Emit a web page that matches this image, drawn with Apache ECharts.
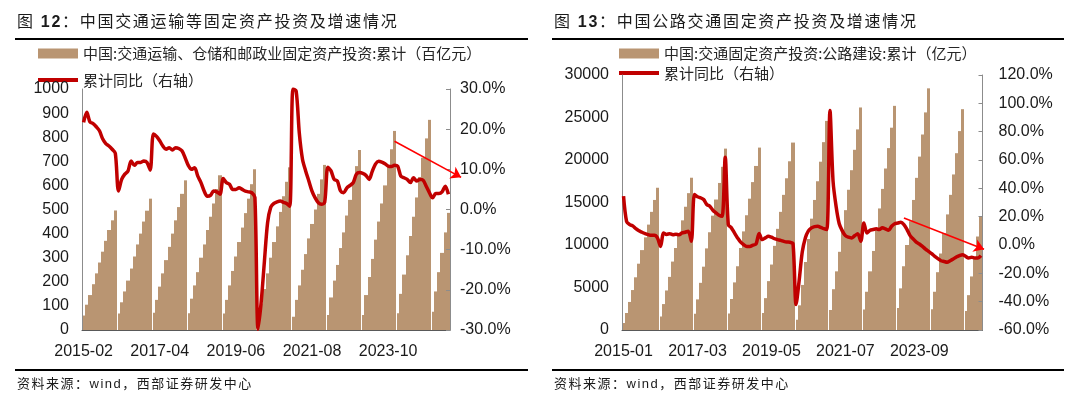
<!DOCTYPE html>
<html>
<head>
<meta charset="utf-8">
<script src="https://cdn.jsdelivr.net/npm/echarts@6/dist/echarts.min.js"></script>
<style>
html, body { margin: 0; padding: 0; background: #fff; }
#wrap { position: relative; width: 1080px; height: 398px; overflow: hidden; }
#main { position: absolute; left: 0; top: 0; width: 1080px; height: 398px; }
.cap { position: absolute; white-space: nowrap; color: #1a1a1a; font-family: 'Liberation Sans', 'Noto Sans CJK SC', sans-serif; }
.tt { top: 12px; font-size: 16px; line-height: 20px; letter-spacing: 1.7px; }
.src { top: 375px; font-size: 13px; line-height: 18px; letter-spacing: 1.5px; }
.rule { position: absolute; height: 2px; background: #000; }
</style>
</head>
<body>
<div id="wrap">
	<div id="main"></div>
	<div class="cap tt" style="left:17px">图 <b>12</b>：中国交通运输等固定资产投资及增速情况</div>
	<div class="cap tt" style="left:554px">图 <b>13</b>：中国公路交通固定资产投资及增速情况</div>
	<div class="rule" style="left:15px;top:37.5px;width:513px"></div>
	<div class="rule" style="left:552px;top:37.5px;width:512px"></div>
	<div class="rule" style="left:15px;top:369px;width:513px"></div>
	<div class="rule" style="left:552px;top:369px;width:512px"></div>
	<div class="cap src" style="left:17px">资料来源：wind，西部证券研发中心</div>
	<div class="cap src" style="left:554px">资料来源：wind，西部证券研发中心</div>
</div>
<script>
// months on the x axis: January is folded into February, except the very first one
function monthList(y0, m0, y1, m1) {
	var out = [];
	for (var y = y0; y <= y1; y++) {
		for (var m = (y === y0 ? m0 : 2); m <= (y === y1 ? m1 : 12); m++) {
			out.push(y + '-' + (m < 10 ? '0' : '') + m);
		}
	}
	return out;
}

// 图12 交通运输、仓储和邮政业
var trMonths = monthList(2015, 2, 2025, 7);
var trBar = [
	60, 105, 145, 190, 235, 280, 325, 370, 415, 455, 496,
	68, 115, 160, 205, 255, 305, 355, 400, 450, 495, 545,
	72, 125, 180, 235, 290, 345, 400, 455, 510, 565, 621,
	70, 130, 185, 240, 300, 355, 415, 470, 525, 585, 642,
	68, 125, 185, 245, 305, 365, 425, 485, 545, 605, 667,
	48, 110, 170, 235, 300, 365, 430, 490, 555, 615, 675,
	55, 125, 185, 250, 315, 380, 440, 500, 565, 625, 685,
	62, 135, 205, 270, 340, 405, 475, 540, 610, 680, 747,
	62, 145, 220, 295, 375, 450, 525, 600, 675, 750, 826,
	70, 150, 230, 310, 390, 470, 550, 635, 715, 795, 872,
	76, 160, 240, 320, 405, 486
];
var trYoy = [
	21.7, 24.2, 21.8, 21.4, 20.6, 19.6, 17.6, 16.4, 15.8, 15.0, 14.0,
	4.6, 7.5, 8.8, 9.6, 12.1, 11.0, 11.7, 11.7, 12.1, 11.7, 9.8,
	18.8, 18.2, 17.1, 15.8, 15.0, 15.4, 14.8, 15.4, 15.2, 14.6, 12.9,
	11.0, 10.0, 10.4, 8.3, 6.7, 4.6, 3.3, 3.5, 4.6, 4.4, 3.8,
	7.7, 6.7, 6.3, 5.0, 5.0, 5.4, 5.0, 4.6, 4.4, 4.2, 3.0,
	-29.8, -22.9, -12.9, -3.3, 0.6, 1.5, 1.9, 2.1, 1.8, 1.5, 0.8,
	30.0, 29.5, 19.0, 12.5, 9.6, 7.1, 4.6, 2.9, 1.7, 1.3, 1.8,
	10.5, 9.6, 7.5, 7.1, 4.6, 4.2, 5.4, 6.0, 6.7, 8.8, 9.2,
	9.0, 8.5, 7.5, 9.5, 11.3, 12.0, 11.8, 11.4, 10.8, 10.7, 11.0,
	10.8, 8.3, 7.9, 7.5, 6.7, 7.9, 7.1, 7.5, 7.3, 5.8, 4.2,
	2.9, 4.0, 4.0, 4.4, 5.8, 3.8
];
var trArrow = [[98, 17], [119, 8]]; // [category index, %]

// 图13 公路建设
var hwMonths = monthList(2015, 1, 2025, 7);
var hwBar = [
	820, 2000, 3300, 4700, 6200, 7800, 9400, 10900, 12400, 13900, 15300, 16735,
	1600, 3050, 4650, 6250, 8050, 9650, 11300, 12900, 14500, 16100, 17915,
	1900, 3600, 5550, 7450, 9600, 11500, 13450, 15350, 17300, 19200, 21340,
	1950, 3650, 5600, 7500, 9650, 11600, 13500, 15450, 17400, 19300, 21460,
	2000, 3750, 5750, 7700, 9900, 11900, 13900, 15900, 17850, 19850, 22050,
	1200, 2900, 5300, 8000, 10700, 13100, 15300, 17500, 19800, 22100, 24600,
	2350, 4800, 6900, 9200, 11800, 14100, 16500, 18800, 21200, 23600, 26180,
	2400, 4500, 6900, 9300, 11900, 14300, 16600, 19000, 21400, 23800, 26370,
	2600, 4900, 7500, 10000, 12800, 15300, 17900, 20400, 23000, 25600, 28430,
	2450, 4500, 6800, 9000, 11400, 13600, 15900, 18300, 20800, 23400, 25980,
	2250, 4100, 6300, 8400, 11000, 13380
];
var hwYoy = [
	34.5, 16.5, 14.4, 13.5, 11.5, 10.0, 9.0, 8.0, 7.3, 6.8, 6.8, 5.0,
	-1.0, 8.5, 7.5, 8.0, 7.3, 7.6, 7.3, 8.5, 9.0, 9.7, 2.6,
	35.7, 34.0, 33.3, 32.1, 28.6, 27.4, 24.5, 22.7, 21.0, 20.3, 62.0,
	14.4, 12.1, 8.5, 5.0, 2.0, 0.2, -1.0, -1.0, -0.1, 0.7, 8.2,
	3.8, 5.0, 6.1, 5.5, 4.5, 3.8, 3.3, 2.6, 2.1, 1.9, 0.9,
	-42.0, -25.0, -5.0, 5.0, 10.0, 12.1, 13.0, 13.2, 12.5, 11.5, 10.9,
	95.0, 45.0, 27.0, 15.0, 10.0, 6.6, 5.5, 5.0, 6.5, 8.0, 2.6,
	15.6, 8.5, 10.4, 10.9, 11.4, 10.9, 12.1, 11.4, 10.4, 13.2, 15.0,
	15.5, 16.0, 14.4, 10.9, 6.6, 4.3, 2.0, 0.7, -1.0, -2.9, -4.5,
	-6.1, -8.0, -9.6, -11.1, -11.6, -12.1, -11.1, -9.9, -8.5, -7.5, -6.8,
	-8.0, -9.2, -8.7, -9.2, -9.2, -7.5
];
var hwArrow = [[91, 19], [117, -3]];

var trBarName = '中国:交通运输、仓储和邮政业固定资产投资:累计（百亿元）';
var hwBarName = '中国:交通固定资产投资:公路建设:累计（亿元）';
var yoyName = '累计同比（右轴）';

var barColor = '#B99572',
	lineColor = '#C00000',
	arrowColor = '#FF0000';
var numFont = 'Liberation Sans';
var cjkFont = 'Noto Sans CJK SC';

// stepped bars that touch each other, with a white hairline where a new year starts
function barItem(cats) {
	return function(params, api) {
		var i = api.value(0);
		var top = api.coord([i, api.value(1)]);
		var base = api.coord([i, 0]);
		var next = api.coord([i + 1, 0]);
		var w = next[0] - base[0];
		var x0 = Math.round(base[0] - w / 2);
		var x1 = Math.round(base[0] + w / 2);
		if (i > 0 && cats[i].slice(0, 4) !== cats[i - 1].slice(0, 4)) {
			x0 += 1;
		}
		return {
			type: 'rect',
			shape: { x: x0, y: top[1], width: x1 - x0, height: base[1] - top[1] },
			style: { fill: barColor, stroke: null, lineWidth: 0 }
		};
	};
}

function pairs(arr) {
	return arr.map(function(v, i) { return [i, v]; });
}

function catAxis(gi, cats) {
	return {
		type: 'category',
		gridIndex: gi,
		data: cats,
		boundaryGap: true,
		z: 5,
		axisLine: { lineStyle: { color: '#595959', width: 1 } },
		axisTick: { inside: true, length: 4, interval: 23, lineStyle: { color: '#404040' } },
		axisLabel: { interval: 23, margin: 14, fontFamily: numFont, fontSize: 16, color: '#1a1a1a' },
		splitLine: { show: false }
	};
}

function valAxis(gi, pos, min, max, step, margin, pct) {
	return {
		type: 'value',
		gridIndex: gi,
		position: pos,
		min: min,
		max: max,
		interval: step,
		z: 5,
		axisLine: { show: true, lineStyle: { color: '#8c8c8c', width: 1 } },
		axisTick: pos === 'right' ? { show: true, inside: true, length: 4, lineStyle: { color: '#8c8c8c' } } : { show: false },
		axisLabel: {
			margin: margin,
			fontFamily: numFont,
			fontSize: 16,
			color: '#1a1a1a',
			formatter: function(v) {
				return pct ? v.toFixed(1) + '%' : String(v);
			}
		},
		splitLine: { show: false }
	};
}

function legendOf(name, color, left, top, h) {
	return {
		data: [{ name: name, icon: 'rect', itemStyle: { color: color } }],
		left: left,
		top: top,
		orient: 'vertical',
		padding: 0,
		itemWidth: 40,
		itemHeight: h,
		selectedMode: false,
		textStyle: { fontFamily: cjkFont, fontSize: 15, lineHeight: 18, color: '#262626' }
	};
}

function arrowSeries(xi, yi, pts) {
	return {
		type: 'lines',
		coordinateSystem: 'cartesian2d',
		xAxisIndex: xi,
		yAxisIndex: yi,
		clip: false,
		silent: true,
		z: 7,
		symbol: ['none', 'arrow'],
		symbolSize: 10,
		lineStyle: { color: arrowColor, width: 1.6, opacity: 1, curveness: 0 },
		data: [{ coords: pts }]
	};
}

var myChart = echarts.init(document.getElementById('main'));
var option = {
	backgroundColor: '#fff',
	animation: false,
	legend: [
		legendOf(trBarName, barColor, 38, 44.5, 10),
		legendOf(yoyName, lineColor, 38, 71, 4),
		legendOf(hwBarName, barColor, 619, 44.5, 10),
		legendOf(yoyName, lineColor, 619, 64, 4)
	],
	grid: [
		{ left: 82, top: 89, width: 368, height: 241 },
		{ left: 622, top: 75, width: 360.5, height: 255 }
	],
	xAxis: [catAxis(0, trMonths), catAxis(1, hwMonths)],
	yAxis: [
		valAxis(0, 'left', 0, 1000, 100, 13, false),
		valAxis(0, 'right', -30, 30, 10, 10, true),
		valAxis(1, 'left', 0, 30000, 5000, 13, false),
		valAxis(1, 'right', -60, 120, 20, 16, true)
	],
	series: [{
			name: trBarName,
			type: 'custom',
			xAxisIndex: 0,
			yAxisIndex: 0,
			renderItem: barItem(trMonths),
			itemStyle: { color: barColor },
			encode: { x: 0, y: 1 },
			z: 2,
			data: pairs(trBar)
		}, {
			name: yoyName,
			type: 'line',
			xAxisIndex: 0,
			yAxisIndex: 1,
			smooth: 0.3,
			showSymbol: false,
			symbol: 'none',
			z: 6,
			lineStyle: { color: lineColor, width: 3.5 },
			itemStyle: { color: lineColor },
			data: trYoy
		},
		arrowSeries(0, 1, trArrow),
		{
			name: hwBarName,
			type: 'custom',
			xAxisIndex: 1,
			yAxisIndex: 2,
			renderItem: barItem(hwMonths),
			itemStyle: { color: barColor },
			encode: { x: 0, y: 1 },
			z: 2,
			data: pairs(hwBar)
		}, {
			name: yoyName,
			type: 'line',
			xAxisIndex: 1,
			yAxisIndex: 3,
			smooth: 0.3,
			showSymbol: false,
			symbol: 'none',
			z: 6,
			lineStyle: { color: lineColor, width: 3.5 },
			itemStyle: { color: lineColor },
			data: hwYoy
		},
		arrowSeries(1, 3, hwArrow)
	]
};
myChart.setOption(option);
</script>
</body>
</html>
